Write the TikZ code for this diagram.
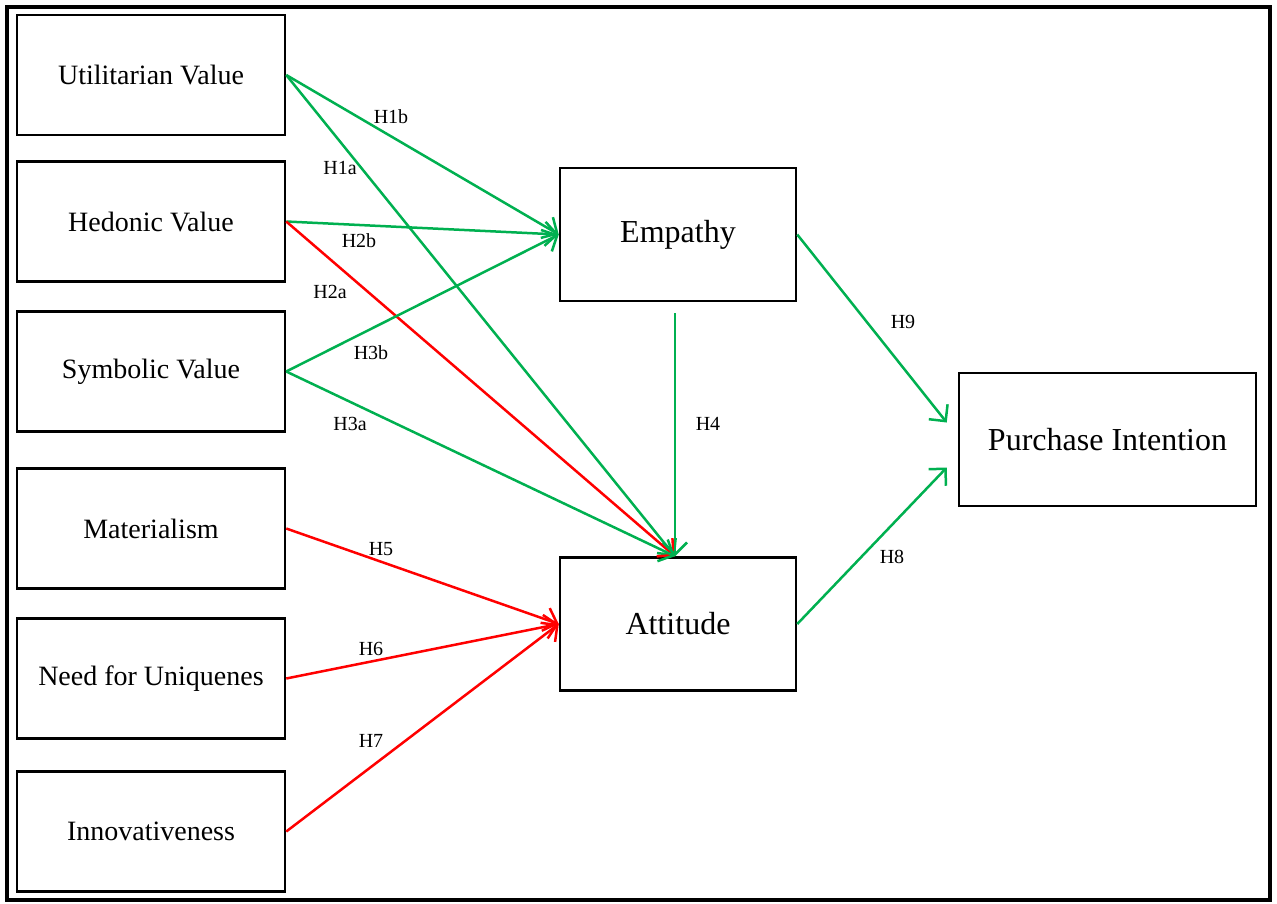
\documentclass[tikz,border=0pt]{standalone}
\usepackage{fontspec}
\setmainfont{Liberation Serif}
\usetikzlibrary{arrows.meta,calc}
\definecolor{okgreen}{HTML}{00B050}
\definecolor{negred}{HTML}{FF0000}
\tikzset{
    factor/.style =     {rectangle,
                        fill=white,
                        draw=black,
                        text=black,
                        line width=2.5pt,
                        inner sep=0pt,
                        minimum width=268pt,
                        minimum height=120pt,
                        font=\fontsize{28}{32}\selectfont},
    construct/.style =  {rectangle,
                        fill=white,
                        draw=black,
                        text=black,
                        line width=2.5pt,
                        inner sep=0pt,
                        minimum width=236pt,
                        minimum height=133pt,
                        font=\fontsize{32}{36}\selectfont},
    hyp/.style =        {inner sep=0pt,
                        text=black,
                        font=\fontsize{20}{24}\selectfont},
    -,
    link/.style =       {line width=2.5pt, ->},
    supp/.style =       {link, draw=okgreen},
    rej/.style =        {link, draw=negred},
    >={Straight Barb[length=12pt,width=24pt]}}

\begin{document}
\begin{tikzpicture}[x=1pt,y=-1pt]
    \useasboundingbox (0,0) rectangle (1277,903);
    \draw [line width=4pt] (7,7) rectangle (1270,900);

    % antecedents
    \node[factor]  (ut)  at (151,75)    {Utilitarian Value};
    \node[factor]  (he)  at (151,221.5) {Hedonic Value};
    \node[factor]  (sy)  at (151,371.5) {Symbolic Value};
    \node[factor]  (ma)  at (151,528.5) {Materialism};
    \node[factor]  (nu)  at (151,678.5) {Need for Uniquenes};
    \node[factor]  (in)  at (151,831.5) {Innovativeness};

    % mediators and outcome
    \node[construct] (emp) at (678,234.5)  {Empathy};
    \node[construct] (att) at (678,624)    {Attitude};
    \node[construct, minimum width=297pt] (pi) at (1107.5,439.5) {Purchase Intention};

    \coordinate (emp-out) at ([xshift=-3pt,yshift=-11pt]emp.south);
    \coordinate (att-in)  at ([xshift=-3pt]att.north);
    \coordinate (pi-top)  at ([xshift=-11pt,yshift=17pt]pi.west);
    \coordinate (pi-bot)  at ([xshift=-11pt,yshift=-28pt]pi.west);

    \path   (ut.east) edge [supp] (emp.west)
            (ut.east) edge [supp] (att-in)
            (he.east) edge [supp] (emp.west)
            (he.east) edge [rej]  (att-in)
            (sy.east) edge [supp] (emp.west)
            (sy.east) edge [supp] (att-in)
            (emp-out) edge [supp] (att-in)
            (ma.east) edge [rej]  (att.west)
            (nu.east) edge [rej]  (att.west)
            (in.east) edge [rej]  (att.west)
            (emp.east) edge [supp] (pi-top)
            (att.east) edge [supp] (pi-bot);

    % hypothesis labels
    \node[hyp] (h1b) at (391,117) {H1b};
    \node[hyp] (h1a) at (340,168) {H1a};
    \node[hyp] (h2b) at (359,241) {H2b};
    \node[hyp] (h2a) at (330,292) {H2a};
    \node[hyp] (h3b) at (371,353) {H3b};
    \node[hyp] (h3a) at (350,424) {H3a};
    \node[hyp] (h4)  at (708,424) {H4};
    \node[hyp] (h5)  at (381,549) {H5};
    \node[hyp] (h6)  at (371,649) {H6};
    \node[hyp] (h7)  at (371,741) {H7};
    \node[hyp] (h9)  at (903,322) {H9};
    \node[hyp] (h8)  at (892,557) {H8};
\end{tikzpicture}
\end{document}
